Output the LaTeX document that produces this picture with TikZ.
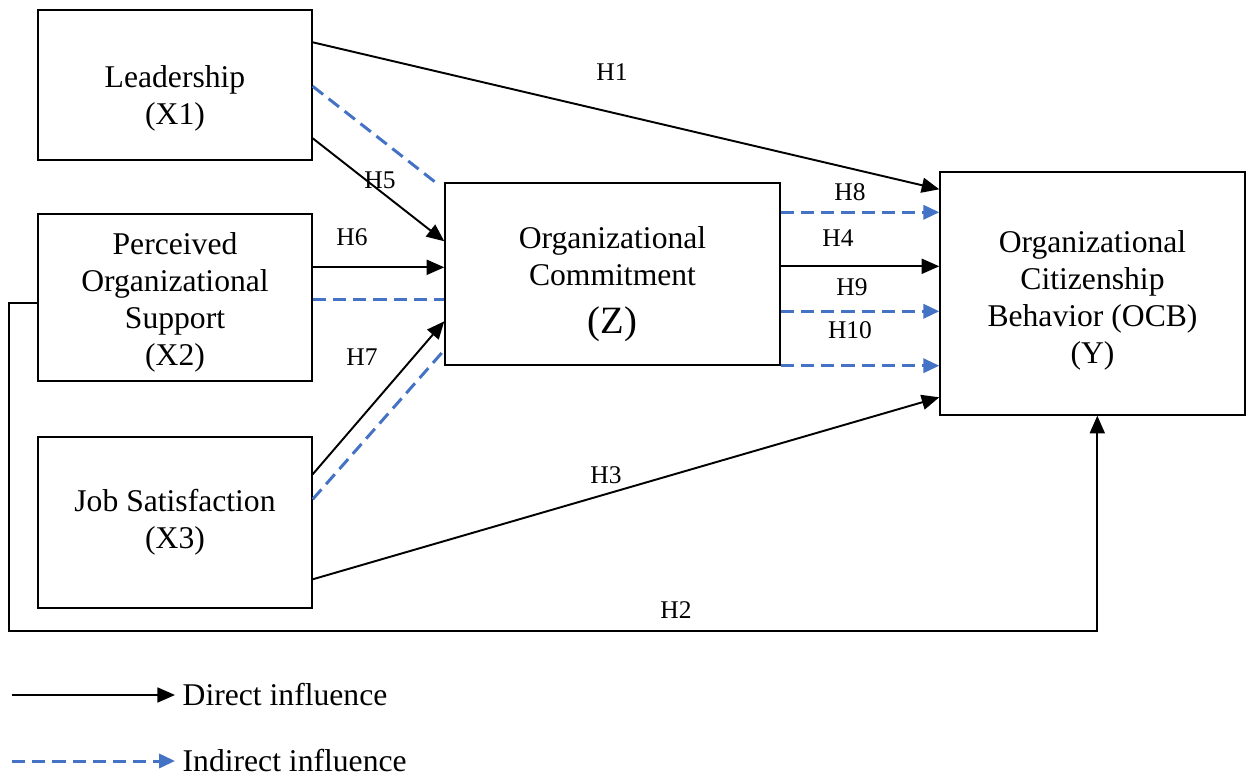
\documentclass[tikz,border=0pt]{standalone}
\usepackage{fontspec}
\setmainfont{Liberation Serif}
\usetikzlibrary{positioning,arrows.meta}

\definecolor{indblue}{RGB}{68,114,196}

\begin{document}
\begin{tikzpicture}[>=stealth, thick,
  box/.style={draw, line width=0.8pt, align=center, inner sep=0pt,
    font=\fontsize{18}{21}\selectfont},
  direct/.style={line width=1.1pt, -{Triangle[length=10pt,width=8.5pt]}},
  indirect/.style={indblue, line width=1.7pt, dash pattern=on 7.5pt off 4pt},
  indarrow/.style={indirect, -{Triangle[length=9pt,width=8pt]}},
  hlab/.style={font=\fontsize{14.5}{16}\selectfont}]
  \useasboundingbox (0,0) rectangle (24.94,-15.56);

  % Nodes
  \node[box, minimum width=5.48cm, minimum height=3cm] (x1) at (3.5,-1.7) {\rule{0pt}{28pt}Leadership\\(X1)};
  \node[box, minimum width=5.48cm, minimum height=3.34cm] (x2) at (3.5,-5.95) {\rule{0pt}{18pt}Perceived\\Organizational\\Support\\(X2)};
  \node[box, minimum width=5.48cm, minimum height=3.42cm] (x3) at (3.5,-10.45) {Job Satisfaction\\(X3)};
  \node[box, minimum width=6.7cm, minimum height=3.64cm] (z) at (12.25,-5.48) {\rule{0pt}{24pt}Organizational\\Commitment\\[6pt]{\fontsize{22}{24}\selectfont(Z)}};
  \node[box, minimum width=6.1cm, minimum height=4.86cm] (y) at (21.85,-5.87) {\rule{0pt}{20pt}Organizational\\Citizenship\\Behavior (OCB)\\(Y)};
  \coordinate (h2c) at (0.18,-12.62);
  \coordinate (h6s) at ([yshift=-1.08cm]x2.north east);
  \coordinate (x2s) at ([yshift=-1.72cm]x2.north east);
  \coordinate (h8s) at ([yshift=-0.6cm]z.north east);
  \coordinate (h4s) at ([yshift=-1.68cm]z.north east);
  \coordinate (h9s) at ([yshift=-2.58cm]z.north east);

  % Direct paths
  \draw[direct] ([yshift=-0.66cm]x1.north east) -- ([yshift=-0.36cm]y.north west);
  \draw[direct] ([yshift=-2.58cm]x1.north east) -- ([yshift=-1.18cm]z.north west);
  \draw[direct] (h6s) -- (h6s -| z.west);
  \draw[direct] ([yshift=-0.76cm]x3.north east) -- ([yshift=-2.78cm]z.north west);
  \draw[direct] ([yshift=-2.86cm]x3.north east) -- ([yshift=-4.52cm]y.north west);
  \draw[direct] (h4s) -- (h4s -| y.west);
  \draw[direct] ([yshift=-1.8cm]x2.north west) -| (h2c) -| ([xshift=3.16cm]y.south west);

  % Indirect paths
  \draw[indirect] ([yshift=-1.54cm]x1.north east) -- ([xshift=-0.1cm,yshift=-0.06cm]z.north west);
  \draw[indirect] (x2s) -- (x2s -| z.west);
  \draw[indirect] ([yshift=-1.26cm]x3.north east) -- ([xshift=-0.04cm,yshift=-3.4cm]z.north west);
  \draw[indarrow] (h8s) -- (h8s -| y.west);
  \draw[indarrow] (h9s) -- (h9s -| y.west);
  \draw[indarrow] (z.south east) -- (z.south east -| y.west);

  % Hypothesis labels
  \node[hlab] (h1) at (12.24,-1.44) {H1};
  \node[hlab] (h2) at (13.52,-12.2) {H2};
  \node[hlab] (h3) at (12.12,-9.5) {H3};
  \node[hlab] (h4) at (16.76,-4.76) {H4};
  \node[hlab] (h5) at (7.6,-3.6) {H5};
  \node[hlab] (h6) at (7.04,-4.74) {H6};
  \node[hlab] (h7) at (7.24,-7.14) {H7};
  \node[hlab] (h8) at (17,-3.84) {H8};
  \node[hlab] (h9) at (17.04,-5.74) {H9};
  \node[hlab] (h10) at (17,-6.6) {H10};

  % Legend
  \coordinate (ld0) at (0.24,-13.9);
  \coordinate (li0) at (0.24,-15.22);
  \node[anchor=west, inner sep=0pt, font=\fontsize{18}{21}\selectfont] (ld) at (3.64,-13.9) {Direct influence};
  \node[anchor=west, inner sep=0pt, font=\fontsize{18}{21}\selectfont] (li) at (3.64,-15.22) {Indirect influence};
  \draw[direct] (ld0) -- ([xshift=-0.14cm]ld.west);
  \draw[indarrow] (li0) -- ([xshift=-0.14cm]li.west);
\end{tikzpicture}
\end{document}
